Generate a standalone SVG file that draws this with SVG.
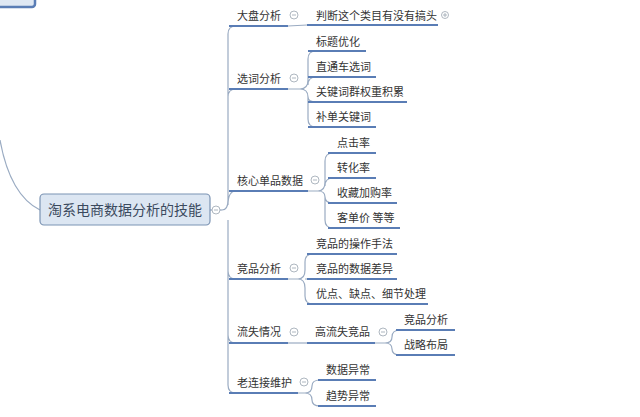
<svg xmlns="http://www.w3.org/2000/svg" width="640" height="417" viewBox="0 0 640 417">
<style>
text{font-family:"Noto Sans CJK SC","Liberation Sans",sans-serif;font-size:11px;fill:#333}
.u{stroke:#5a7db5;stroke-width:2;fill:none}
.c{stroke:#9aabc2;stroke-width:1.2;fill:none}
.t{fill:#fff;stroke:#9aa4b0;stroke-width:0.8}
.s{stroke:#9aa4b0;stroke-width:0.8}
</style>
<rect width="640" height="417" fill="#fff"/>
<g id="connectors">
<path class="c" d="M0 140 Q10 195 40 210"/>
<path class="c" d="M210 210 L222 210"/>
<path class="c" d="M222 210 Q228 210 228 200 L228 34 Q228 26 236 26 M228 200 L228 97 Q228 89 236 89 M228 200 L228 191 M228 205 Q228 191 236 191 M228 220 L228 271 Q228 279 236 279 M228 271 L228 335 Q228 343 236 343 M228 335 L228 385 Q228 393 236 393"/>
<path class="c" d="M288 26 L307 25"/>
<path class="c" d="M288 89 L300 89 Q308 89 308 80 L308 59 Q308 51 316 51 M308 80 L308 85 Q308 77 316 77 M300 89 Q308 89 308 97 Q308 102 316 102 M308 97 L308 119 Q308 127 316 127"/>
<path class="c" d="M308 191 L318 191 Q325 191 325 182 L325 161 Q325 153 333 153 M325 182 L325 186 Q325 178 333 178 M318 191 Q325 191 325 197 Q325 203 333 203 M325 197 L325 220 Q325 228 333 228"/>
<path class="c" d="M288 279 L298 279 Q305 279 305 270 L305 262 Q305 254 313 254 M305 279 L313 279 M298 279 Q305 279 305 288 L305 296 Q305 304 313 304"/>
<path class="c" d="M288 343 L307 343"/>
<path class="c" d="M375 343 L385 343 Q392 343 392 337 Q392 330 400 330 M385 343 Q392 343 392 349 Q392 355 400 355"/>
<path class="c" d="M298 393 L305 393 Q312 393 312 386 Q312 380 320 380 M305 393 Q312 393 312 400 Q312 406 320 406"/>
</g>
<g id="partial-top"><rect x="-10" y="-10" width="45" height="17" rx="3" fill="#dfe8f3" stroke="#5a7db5" stroke-width="2.5"/></g>
<g id="root">
<rect x="40" y="194" width="170" height="31" rx="4" fill="#dce6f2" stroke="#7b93b3" stroke-width="1.2"/>
<text x="125" y="215" text-anchor="middle" style="font-size:14px;fill:#3b4a5e">淘系电商数据分析的技能</text>
<circle class="t" cx="216" cy="210" r="4"/><path class="s" d="M214 210h4"/>
</g>
<g id="n-dapan"><text x="237" y="20">大盘分析</text><path class="u" d="M229 26h59"/><circle class="t" cx="294" cy="15" r="4"/><path class="s" d="M292 15h4"/></g>
<g id="n-panduan"><text x="316" y="20">判断这个类目有没有搞头</text><path class="u" d="M307 25h131"/><circle class="t" cx="445" cy="15" r="3.5"/><path class="s" d="M443 15h4M445 13v4"/></g>
<g id="n-xuanci"><text x="237" y="83">选词分析</text><path class="u" d="M229 89h59"/><circle class="t" cx="294" cy="78" r="4"/><path class="s" d="M292 78h4"/></g>
<g id="n-biaoti"><text x="316" y="46">标题优化</text><path class="u" d="M308 51h58"/></g>
<g id="n-zhitongche"><text x="316" y="71">直通车选词</text><path class="u" d="M308 77h68"/></g>
<g id="n-guanjianci"><text x="316" y="96">关键词群权重积累</text><path class="u" d="M308 102h99"/></g>
<g id="n-budan"><text x="316" y="121">补单关键词</text><path class="u" d="M308 127h68"/></g>
<g id="n-hexin"><text x="237" y="185">核心单品数据</text><path class="u" d="M229 191h79"/><circle class="t" cx="315" cy="180" r="4"/><path class="s" d="M313 180h4"/></g>
<g id="n-dianji"><text x="337" y="147">点击率</text><path class="u" d="M328 153h48"/></g>
<g id="n-zhuanhua"><text x="337" y="172">转化率</text><path class="u" d="M328 178h48"/></g>
<g id="n-shoucang"><text x="337" y="197">收藏加购率</text><path class="u" d="M328 203h69"/></g>
<g id="n-kedan"><text x="337" y="222">客单价 等等</text><path class="u" d="M328 228h72"/></g>
<g id="n-jingpin"><text x="237" y="273">竞品分析</text><path class="u" d="M229 279h59"/><circle class="t" cx="294" cy="268" r="4"/><path class="s" d="M292 268h4"/></g>
<g id="n-caozuo"><text x="316" y="248">竞品的操作手法</text><path class="u" d="M307 254h90"/></g>
<g id="n-chayi"><text x="316" y="273">竞品的数据差异</text><path class="u" d="M307 279h90"/></g>
<g id="n-youdian"><text x="316" y="298">优点、缺点、细节处理</text><path class="u" d="M307 304h121"/></g>
<g id="n-liushi"><text x="237" y="336">流失情况</text><path class="u" d="M229 343h59"/><circle class="t" cx="294" cy="332" r="4"/><path class="s" d="M292 332h4"/></g>
<g id="n-gaoliushi"><text x="315" y="336">高流失竞品</text><path class="u" d="M307 343h68"/><circle class="t" cx="383" cy="332" r="4"/><path class="s" d="M381 332h4"/></g>
<g id="n-jpfx"><text x="404" y="324">竞品分析</text><path class="u" d="M396 330h59"/></g>
<g id="n-zhanlue"><text x="404" y="349">战略布局</text><path class="u" d="M396 355h59"/></g>
<g id="n-laolianjie"><text x="237" y="387">老连接维护</text><path class="u" d="M229 393h69"/><circle class="t" cx="304" cy="382" r="4"/><path class="s" d="M302 382h4"/></g>
<g id="n-shuju"><text x="326" y="374">数据异常</text><path class="u" d="M318 380h58"/></g>
<g id="n-qushi"><text x="326" y="400">趋势异常</text><path class="u" d="M318 406h58"/></g>
</svg>
